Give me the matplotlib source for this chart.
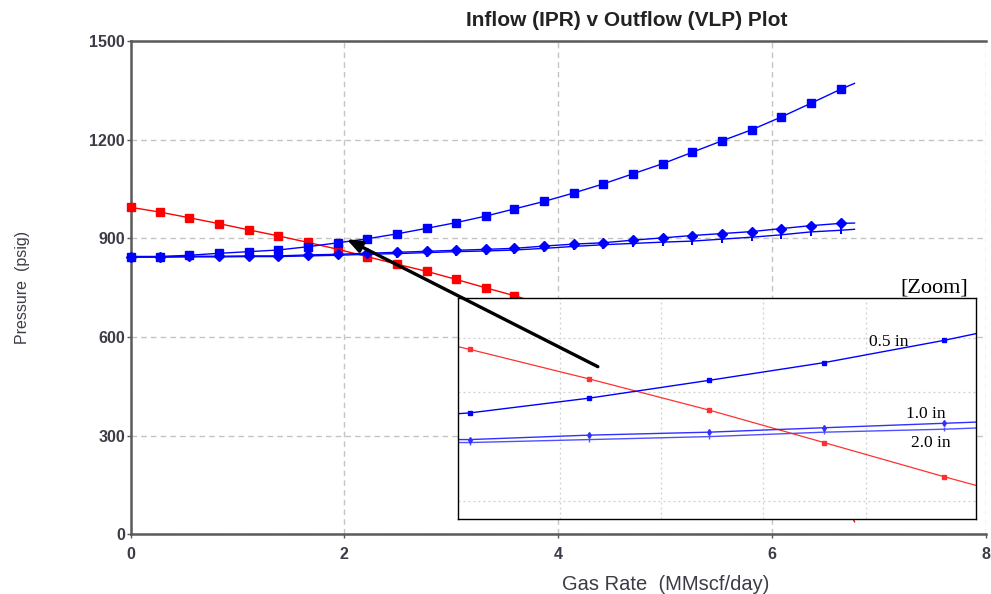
import matplotlib
matplotlib.use("Agg")
import matplotlib.pyplot as plt

plt.rcParams["font.family"] = ["Liberation Sans", "DejaVu Sans"]

# gas rate grid, MMscf/day (last entry only closes the curves, no marker)
gas_rate = [0.00, 0.28, 0.55, 0.83, 1.11, 1.38, 1.66, 1.94, 2.21, 2.49,
            2.77, 3.04, 3.32, 3.59, 3.87, 4.15, 4.42, 4.70, 4.98, 5.25,
            5.53, 5.81, 6.08, 6.36, 6.64, 6.77]

# inflow performance, psig
ipr = [995, 980, 963, 945, 926, 908, 888, 867, 845, 822,
       800, 776, 750, 726, 698, 668, 636, 601, 563, 520,
       471, 414, 345, 255, 130, 38]

# outflow curves for three tubing sizes, psig
vlp_05 = [845, 845, 849, 855, 860, 865, 875, 887, 899, 914,
          931, 948, 968, 990, 1013, 1039, 1066, 1097, 1128, 1162,
          1197, 1231, 1269, 1311, 1354, 1372]
vlp_10 = [845, 845, 846, 846, 847, 847, 850, 852, 855, 858,
          861, 864, 867, 870, 877, 883, 887, 895, 902, 909,
          915, 921, 930, 939, 946, 947]
vlp_20 = [843, 843, 844, 844, 845, 845, 847, 849, 852, 854,
          857, 860, 862, 865, 870, 876, 881, 885, 889, 892,
          898, 904, 911, 920, 925, 928]

x_ticks = [0, 2, 4, 6, 8]
y_ticks = [0, 300, 600, 900, 1200, 1500]

# window shown in the zoom box
zoom_xlim = (1.353, 2.566)
zoom_ylim = (793.3, 942.7)
zoom_xgrid = [1.592, 1.828, 2.067, 2.309]
zoom_ygrid = [805.5, 879.0, 915.8]

RED = "#ff0000"
BLUE = "#0000ff"
TXT = "#3c3c48"
n_mark = len(gas_rate) - 1

fig = plt.figure(figsize=(9.91, 5.94), dpi=100)
ax = fig.add_axes([0.1317, 0.1005, 0.8633, 0.830])

ax.plot(gas_rate, ipr, color=RED, lw=1.0, marker="s", ms=5.8,
        markevery=slice(0, n_mark), zorder=3, clip_on=False)
ax.plot(gas_rate, vlp_05, color=BLUE, lw=1.0, marker="s", ms=5.8,
        markevery=slice(0, n_mark), zorder=3, clip_on=False)
ax.plot(gas_rate, vlp_20, color=BLUE, lw=1.0, marker="|", ms=6, mew=1.5,
        markevery=slice(0, n_mark), zorder=3, clip_on=False)
ax.plot(gas_rate, vlp_10, color=BLUE, lw=1.0, marker="D", ms=5,
        markevery=slice(0, n_mark), zorder=3, clip_on=False)

ax.set_xlim(0, 8)
ax.set_ylim(0, 1500)
ax.set_xticks(x_ticks)
ax.set_yticks(y_ticks)
ax.grid(True, color="#c4c4c4", lw=1.0, ls=(0, (4, 3)))
ax.set_axisbelow(True)
for side in ("left", "bottom", "top"):
    ax.spines[side].set_color("#5a5a5a")
    ax.spines[side].set_linewidth(1.8)
ax.spines["right"].set_visible(False)
ax.tick_params(axis="y", length=3, width=1, color="#5a5a5a", pad=1,
               labelsize=11.5, labelcolor=TXT)
ax.tick_params(axis="x", length=3, width=1, color="#5a5a5a", pad=6,
               labelsize=11.5, labelcolor=TXT)
for lab in ax.get_xticklabels() + ax.get_yticklabels():
    lab.set_fontweight("bold")

ax.set_xlabel("Gas Rate  (MMscf/day)", fontsize=14.5, color=TXT)
ax.xaxis.set_label_coords(0.625, -0.082)
ax.set_ylabel("Pressure  (psig)", fontsize=11.5, color=TXT)
ax.yaxis.set_label_coords(-0.117, 0.5)

fig.text(0.632, 0.966, "Inflow (IPR) v Outflow (VLP) Plot", ha="center",
         va="center", fontsize=15, fontweight="bold", color="#222222")

# zoom box over the lower right of the plot
axz = ax.inset_axes([0.3828, 0.031, 0.6055, 0.4483])
axz.set_facecolor("white")
axz.plot(gas_rate, ipr, color="#ff3030", lw=0.9, marker="s", ms=2.6)
axz.plot(gas_rate, vlp_05, color=BLUE, lw=1.0, marker="s", ms=2.6)
axz.plot(gas_rate, vlp_20, color="#5050ff", lw=1.0, marker="|", ms=3.5)
axz.plot(gas_rate, vlp_10, color="#3030ff", lw=1.0, marker="d", ms=3)
axz.set_xlim(*zoom_xlim)
axz.set_ylim(*zoom_ylim)
axz.set_xticks(zoom_xgrid)
axz.set_yticks(zoom_ygrid)
axz.tick_params(length=0, labelbottom=False, labelleft=False)
axz.grid(True, color="#cfcfcf", lw=0.9, ls=(0, (1.5, 2.5)))
for sp in axz.spines.values():
    sp.set_color("black")
    sp.set_linewidth(1.0)

serif = ["Liberation Serif", "DejaVu Serif"]
axz.text(0.869, 0.783, "0.5 in", transform=axz.transAxes, ha="right",
         va="baseline", fontsize=12.5, family=serif)
axz.text(0.942, 0.457, "1.0 in", transform=axz.transAxes, ha="right",
         va="baseline", fontsize=12.5, family=serif)
axz.text(0.950, 0.326, "2.0 in", transform=axz.transAxes, ha="right",
         va="baseline", fontsize=12.5, family=serif)
axz.text(0.985, 1.027, "[Zoom]", transform=axz.transAxes, ha="right",
         va="baseline", fontsize=16, family=serif)

# arrow from the zoom box to the operating point
ax.annotate("", xy=(2.02, 898), xytext=(4.37, 510),
            arrowprops=dict(arrowstyle="-|>,head_length=0.9,head_width=0.35",
                            color="black", lw=2.4, shrinkA=0, shrinkB=0),
            zorder=10)

fig.savefig("out.png", dpi=100, facecolor="white")
